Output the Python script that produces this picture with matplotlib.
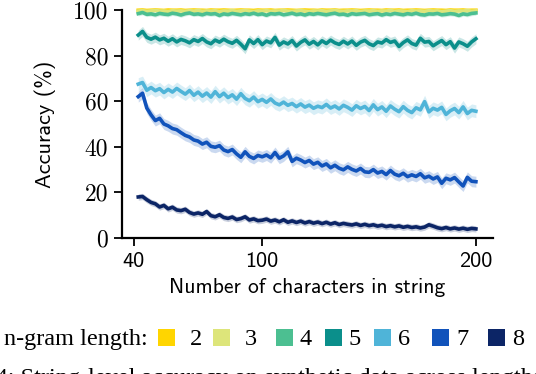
import numpy as np
import matplotlib
matplotlib.use("Agg")
import matplotlib.pyplot as plt
from matplotlib.patches import Rectangle

# ---------------- data ----------------
lengths = list(range(42, 201, 2))

acc_2 = [99.9, 100.0, 99.8, 99.9, 100.0, 99.9, 99.8, 100.0, 99.9, 99.9,
         100.0, 99.8, 99.9, 100.0, 99.9, 99.9, 99.8, 100.0, 99.9, 99.9,
         100.0, 99.9, 99.8, 99.9, 100.0, 99.9, 99.9, 99.8, 100.0, 99.9,
         99.9, 100.0, 99.8, 99.9, 99.9, 100.0, 99.9, 99.8, 99.9, 100.0,
         99.9, 99.9, 99.8, 100.0, 99.9, 99.9, 100.0, 99.8, 99.9, 99.9,
         100.0, 99.9, 99.8, 99.9, 100.0, 99.9, 99.9, 99.8, 100.0, 99.9,
         99.9, 100.0, 99.8, 99.9, 99.9, 100.0, 99.9, 99.8, 99.9, 100.0,
         99.9, 99.9, 99.8, 100.0, 99.9, 99.9, 100.0, 99.8, 99.9, 99.9]
acc_3 = [99.5, 99.7, 99.4, 99.6, 99.8, 99.5, 99.6, 99.3, 99.7, 99.5,
         99.6, 99.4, 99.7, 99.5, 99.8, 99.4, 99.6, 99.5, 99.7, 99.3,
         99.6, 99.5, 99.8, 99.4, 99.6, 99.7, 99.5, 99.3, 99.6, 99.5,
         99.7, 99.4, 99.6, 99.5, 99.8, 99.5, 99.4, 99.6, 99.7, 99.5,
         99.3, 99.6, 99.5, 99.7, 99.4, 99.6, 99.8, 99.5, 99.4, 99.6,
         99.5, 99.7, 99.3, 99.6, 99.5, 99.7, 99.4, 99.6, 99.5, 99.8,
         99.4, 99.6, 99.5, 99.3, 99.7, 99.5, 99.6, 99.4, 99.7, 99.5,
         99.6, 99.3, 99.5, 99.7, 99.4, 99.6, 99.5, 99.8, 99.4, 99.6]
acc_4 = [98.4, 98.9, 98.1, 98.3, 97.9, 98.5, 98.2, 98.0, 98.6, 98.3,
         97.8, 98.4, 98.7, 98.1, 98.3, 97.9, 98.5, 98.2, 98.4, 97.6,
         98.3, 98.0, 98.5, 98.2, 97.9, 98.4, 98.1, 98.6, 98.0, 98.3,
         97.7, 98.4, 98.2, 98.5, 97.9, 98.2, 98.6, 98.0, 98.3, 97.8,
         98.4, 98.1, 98.5, 98.2, 97.9, 98.3, 98.6, 98.0, 98.2, 97.7,
         98.4, 98.1, 98.3, 98.5, 97.9, 98.2, 98.4, 97.8, 98.3, 98.0,
         98.5, 98.2, 97.9, 98.4, 98.1, 98.6, 98.0, 97.8, 98.3, 98.2,
         98.5, 97.9, 98.1, 98.4, 98.2, 97.6, 98.3, 98.0, 98.5, 98.7]
acc_5 = [89.0, 90.6, 88.0, 87.2, 88.1, 86.9, 87.6, 86.3, 87.4, 86.0,
         87.1, 86.5, 85.6, 87.0, 86.2, 87.5, 86.0, 85.2, 86.8, 85.9,
         87.2, 86.1, 85.4, 86.7, 85.0, 83.0, 86.9, 85.3, 87.0, 84.8,
         86.4, 85.6, 88.0, 84.6, 86.0, 85.1, 86.6, 84.2, 85.8, 86.9,
         85.0, 86.2, 84.7, 86.5, 85.3, 86.8, 85.6, 84.9, 86.3, 85.1,
         86.4, 84.5, 85.9, 86.7, 85.2, 84.4, 86.0, 85.5, 87.0, 85.8,
         86.4, 84.0, 85.7, 86.9, 85.3, 84.6, 87.6, 85.9, 86.2, 84.3,
         85.5, 86.6, 84.8, 86.1, 83.3, 86.0, 85.2, 84.1, 86.0, 87.4]
acc_6 = [67.5, 68.2, 64.8, 66.0, 64.6, 65.5, 63.8, 65.2, 64.0, 65.6,
         64.3, 63.1, 64.7, 62.6, 64.0, 62.2, 63.6, 61.8, 64.2, 62.0,
         63.5, 61.6, 62.8, 60.9, 63.3, 61.2, 60.2, 61.8, 59.8, 60.8,
         59.5, 61.0, 59.2, 58.4, 59.6, 58.2, 59.0, 57.6, 58.8, 57.4,
         58.3, 56.9, 57.8, 57.2, 58.6, 57.0, 57.9, 56.6, 58.2, 57.3,
         56.1, 58.0, 56.8, 57.7, 55.9, 58.4, 56.3, 57.5, 55.6, 57.9,
         56.5, 55.4, 57.6, 56.0, 55.0, 57.1, 56.2, 59.8, 55.3, 56.9,
         56.1, 57.3, 54.2, 55.8, 56.8, 55.0, 57.5, 54.6, 56.0, 55.6]
acc_7 = [62.0, 63.5, 57.0, 54.0, 51.5, 52.5, 50.0, 49.2, 48.0, 47.5,
         46.2, 45.0, 44.3, 43.0, 42.5, 41.2, 42.0, 40.2, 39.8, 40.5,
         38.6, 37.9, 38.8, 36.9, 35.4, 37.8, 35.8, 34.9, 36.2, 35.6,
         36.4, 35.2, 37.5, 35.0, 36.0, 37.8, 33.6, 35.0, 34.2, 33.1,
         34.0, 32.4, 33.2, 31.6, 32.5, 30.8, 31.9, 30.6, 29.9, 31.2,
         30.1, 29.4, 30.5, 29.0, 28.8, 30.0, 28.5, 29.2, 27.8, 29.6,
         28.0, 27.3, 28.4, 26.9, 27.7, 27.0, 28.2, 26.4, 27.1, 25.9,
         26.8, 24.0, 26.2, 25.5, 26.5, 24.6, 22.8, 26.6, 24.9, 24.7]
acc_8 = [18.0, 18.2, 16.8, 15.6, 15.0, 13.6, 14.3, 12.8, 13.5, 12.3,
         12.0, 12.6, 11.2, 10.5, 11.0, 10.4, 11.6, 9.8, 9.3, 10.2,
         9.0, 8.6, 9.2, 8.1, 8.5, 9.3, 7.9, 8.4, 7.6, 7.8,
         8.3, 7.4, 7.9, 7.1, 8.0, 6.9, 7.5, 6.8, 7.4, 6.6,
         7.2, 6.5, 7.0, 6.3, 6.9, 6.1, 6.7, 5.9, 6.4, 6.0,
         5.7, 6.2, 5.5, 6.0, 5.4, 5.8, 5.2, 5.6, 5.0, 5.4,
         4.9, 5.3, 4.7, 5.1, 4.6, 4.9, 4.4, 4.8, 5.8, 5.2,
         4.5, 4.1, 4.6, 4.0, 4.4, 3.9, 4.3, 3.8, 4.2, 4.0]

ngram_labels = ["2", "3", "4", "5", "6", "7", "8"]
series = [acc_2, acc_3, acc_4, acc_5, acc_6, acc_7, acc_8]
spread = [0.3, 0.5, 1.0, 2.2, 2.8, 2.4, 1.4]   # half-width of shaded band
colors = ["#FFD500", "#DDE57A", "#4CBF91", "#0B8F8B", "#4FB4D8", "#1153BB", "#0C2566"]

xticks = [40, 100, 200]
yticks = [0, 20, 40, 60, 80, 100]

# ---------------- figure ----------------
W, H = 536, 374
fig = plt.figure(figsize=(W / 100, H / 100), dpi=100)
ax = fig.add_axes([122 / W, 1 - 238 / H, (493 - 122) / W, (238 - 10) / H])

x = np.array(lengths)
for vals, sp, c in zip(series, spread, colors):
    v = np.array(vals)
    ax.fill_between(x, v - sp, v + sp, color=c, alpha=0.22, lw=0, clip_on=False)
    ax.plot(x, v, color=c, lw=2.6, clip_on=False, solid_joinstyle="round")

ax.set_xlim(34.4, 208)
ax.set_ylim(0, 100)
ax.set_xticks(xticks)
ax.set_yticks(yticks)
ax.set_xticklabels([str(t) for t in xticks], fontfamily="cmss10", fontsize=16)
ax.set_yticklabels([str(t) for t in yticks], fontfamily="cmr10", fontsize=17)
ax.tick_params(axis="both", direction="out", length=6, width=1.3, pad=4)
for s in ["top", "right"]:
    ax.spines[s].set_visible(False)
for s in ["left", "bottom"]:
    ax.spines[s].set_linewidth(1.6)

ax.set_xlabel("Number of characters in string", fontfamily="cmss10", fontsize=15.5, labelpad=5)
ax.set_ylabel("Accuracy (%)", fontfamily="cmss10", fontsize=16, labelpad=12)

# ---------------- legend (manual, figure pixel layout) ----------------
leg_sq_x = [158, 213, 276, 325, 374, 432, 488]
leg_tx_x = [190, 245, 300, 349, 398, 456, 512]
sq = 17
sq_top = 329
fig.text(148 / W, 1 - 345 / H, "n-gram length:", ha="right", va="baseline",
         fontfamily="Liberation Serif", fontsize=17.5)
for lab, c, sx, tx in zip(ngram_labels, colors, leg_sq_x, leg_tx_x):
    fig.patches.append(Rectangle((sx / W, 1 - (sq_top + sq) / H), sq / W, sq / H,
                                 transform=fig.transFigure, facecolor=c, edgecolor="none"))
    fig.text(tx / W, 1 - 345 / H, lab, ha="left", va="baseline",
             fontfamily="Liberation Serif", fontsize=17.5)

# caption (cut off at the bottom edge, as in the source page)
fig.text(-74 / W, 1 - 384 / H,
         "Figure 4: String-level accuracy on synthetic data across lengths; line plots with shading",
         ha="left", va="baseline", fontfamily="Liberation Serif", fontsize=17.5)

fig.savefig("out.png", dpi=100)
